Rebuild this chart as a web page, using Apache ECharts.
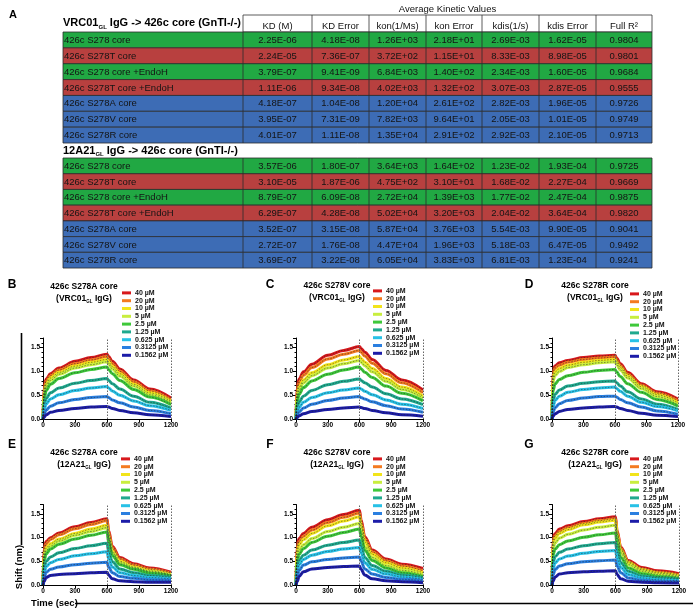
<!DOCTYPE html>
<html><head><meta charset="utf-8">
<script src="https://cdn.jsdelivr.net/npm/echarts@6/dist/echarts.min.js"></script>
<style>html,body{margin:0;padding:0;background:#fff}#c{width:693px;height:611px}</style>
</head><body><div id="c"></div>
<script>
// ---------------- DATA ----------------
const columns = ['KD (M)','KD Error','kon(1/Ms)','kon Error','kdis(1/s)','kdis Error','Full R²'];
const rowLabels = ['426c S278 core','426c S278T core','426c S278 core +EndoH','426c S278T core +EndoH','426c S278A core','426c S278V core','426c S278R core'];
const rowGroups = ['G','R','G','R','B','B','B'];
const vrcValues = [
 ['2.25E-06','4.18E-08','1.26E+03','2.18E+01','2.69E-03','1.62E-05','0.9804'],
 ['2.24E-05','7.36E-07','3.72E+02','1.15E+01','8.33E-03','8.98E-05','0.9801'],
 ['3.79E-07','9.41E-09','6.84E+03','1.40E+02','2.34E-03','1.60E-05','0.9684'],
 ['1.11E-06','9.34E-08','4.02E+03','1.32E+02','3.07E-03','2.87E-05','0.9555'],
 ['4.18E-07','1.04E-08','1.20E+04','2.61E+02','2.82E-03','1.96E-05','0.9726'],
 ['3.95E-07','7.31E-09','7.82E+03','9.64E+01','2.05E-03','1.01E-05','0.9749'],
 ['4.01E-07','1.11E-08','1.35E+04','2.91E+02','2.92E-03','2.10E-05','0.9713']];
const a12Values = [
 ['3.57E-06','1.80E-07','3.64E+03','1.64E+02','1.23E-02','1.93E-04','0.9725'],
 ['3.10E-05','1.87E-06','4.75E+02','3.10E+01','1.68E-02','2.27E-04','0.9669'],
 ['8.79E-07','6.09E-08','2.72E+04','1.39E+03','1.77E-02','2.47E-04','0.9875'],
 ['6.29E-07','4.28E-08','5.02E+04','3.20E+03','2.04E-02','3.64E-04','0.9820'],
 ['3.52E-07','3.15E-08','5.87E+04','3.76E+03','5.54E-03','9.90E-05','0.9041'],
 ['2.72E-07','1.76E-08','4.47E+04','1.96E+03','5.18E-03','6.47E-05','0.9492'],
 ['3.69E-07','3.22E-08','6.05E+04','3.83E+03','6.81E-03','1.23E-04','0.9241']];

const concentrations = ['40 µM','20 µM','10 µM','5 µM','2.5 µM','1.25 µM','0.625 µM','0.3125 µM','0.1562 µM'];
const timePoints = [0,10,30,70,150,300,450,600,615,650,720,850,1000,1200];
const xTicks = [0,300,600,900,1200];

const panelB = [
 [0,0.68,0.84,0.95,1.07,1.21,1.29,1.36,1.31,1.21,1.05,0.82,0.63,0.44],
 [0,0.62,0.79,0.91,1.03,1.16,1.24,1.31,1.26,1.16,1.00,0.78,0.59,0.40],
 [0,0.55,0.73,0.86,0.98,1.11,1.19,1.25,1.20,1.10,0.95,0.73,0.55,0.37],
 [0,0.48,0.68,0.81,0.94,1.07,1.14,1.20,1.15,1.05,0.90,0.69,0.51,0.34],
 [0,0.40,0.60,0.73,0.85,0.97,1.04,1.09,1.04,0.95,0.81,0.62,0.46,0.30],
 [0,0.27,0.43,0.55,0.65,0.75,0.81,0.85,0.81,0.74,0.63,0.48,0.35,0.23],
 [0,0.19,0.32,0.42,0.51,0.60,0.65,0.68,0.65,0.59,0.50,0.38,0.28,0.18],
 [0,0.10,0.19,0.27,0.34,0.41,0.45,0.47,0.45,0.40,0.34,0.25,0.18,0.11],
 [0,0.04,0.09,0.14,0.18,0.22,0.25,0.26,0.25,0.22,0.18,0.13,0.09,0.05]];
const panelC = [
 [0,0.68,0.84,0.99,1.15,1.34,1.44,1.52,1.48,1.40,1.25,1.02,0.82,0.61],
 [0,0.60,0.77,0.92,1.08,1.26,1.36,1.44,1.40,1.32,1.17,0.95,0.76,0.55],
 [0,0.50,0.67,0.82,0.97,1.14,1.24,1.31,1.27,1.19,1.06,0.85,0.67,0.48],
 [0,0.44,0.61,0.76,0.91,1.07,1.16,1.23,1.19,1.12,0.99,0.79,0.62,0.44],
 [0,0.35,0.52,0.66,0.80,0.94,1.03,1.09,1.05,0.98,0.87,0.69,0.54,0.38],
 [0,0.22,0.36,0.48,0.60,0.72,0.79,0.84,0.81,0.76,0.67,0.53,0.42,0.30],
 [0,0.14,0.25,0.35,0.45,0.55,0.61,0.65,0.63,0.58,0.51,0.40,0.31,0.22],
 [0,0.07,0.15,0.23,0.31,0.39,0.44,0.47,0.45,0.42,0.36,0.28,0.21,0.14],
 [0,0.03,0.07,0.11,0.16,0.20,0.23,0.25,0.24,0.22,0.18,0.13,0.09,0.06]];
const panelD = [
 [0,1.04,1.12,1.18,1.23,1.29,1.32,1.34,1.28,1.16,0.98,0.74,0.57,0.42],
 [0,0.98,1.07,1.13,1.19,1.25,1.28,1.30,1.24,1.12,0.94,0.71,0.54,0.38],
 [0,0.88,0.99,1.06,1.13,1.19,1.23,1.25,1.19,1.08,0.90,0.68,0.51,0.34],
 [0,0.80,0.92,1.00,1.08,1.14,1.18,1.20,1.14,1.03,0.86,0.64,0.47,0.30],
 [0,0.60,0.74,0.83,0.91,0.98,1.02,1.04,0.99,0.89,0.74,0.56,0.41,0.27],
 [0,0.38,0.52,0.61,0.69,0.75,0.78,0.80,0.76,0.69,0.57,0.42,0.31,0.20],
 [0,0.26,0.39,0.48,0.56,0.62,0.65,0.67,0.64,0.58,0.48,0.35,0.26,0.17],
 [0,0.14,0.24,0.32,0.39,0.44,0.47,0.48,0.46,0.41,0.34,0.25,0.17,0.10],
 [0,0.06,0.11,0.16,0.20,0.23,0.25,0.26,0.25,0.22,0.18,0.12,0.08,0.05]];
const panelE = [
 [0,0.80,0.92,1.00,1.10,1.23,1.32,1.40,1.15,0.82,0.58,0.45,0.36,0.27],
 [0,0.74,0.87,0.96,1.06,1.19,1.28,1.36,1.11,0.78,0.55,0.42,0.33,0.25],
 [0,0.64,0.78,0.87,0.97,1.09,1.18,1.26,1.02,0.71,0.50,0.38,0.30,0.22],
 [0,0.58,0.73,0.82,0.93,1.05,1.13,1.21,0.98,0.68,0.47,0.36,0.28,0.21],
 [0,0.50,0.66,0.76,0.86,0.97,1.05,1.12,0.90,0.62,0.43,0.33,0.25,0.19],
 [0,0.35,0.50,0.59,0.68,0.77,0.83,0.88,0.71,0.49,0.34,0.26,0.20,0.16],
 [0,0.25,0.39,0.47,0.54,0.62,0.66,0.70,0.56,0.38,0.26,0.20,0.16,0.13],
 [0,0.14,0.27,0.33,0.38,0.43,0.46,0.48,0.38,0.26,0.18,0.14,0.11,0.10],
 [0,0.07,0.16,0.20,0.22,0.24,0.26,0.27,0.21,0.13,0.09,0.07,0.06,0.06]];
const panelF = [
 [0,0.85,0.98,1.09,1.22,1.38,1.49,1.58,1.38,1.02,0.74,0.55,0.44,0.35],
 [0,0.78,0.92,1.03,1.16,1.32,1.43,1.52,1.32,0.97,0.70,0.51,0.40,0.30],
 [0,0.70,0.85,0.96,1.09,1.25,1.35,1.44,1.25,0.91,0.65,0.47,0.36,0.26],
 [0,0.58,0.74,0.85,0.98,1.13,1.22,1.30,1.12,0.81,0.58,0.41,0.31,0.22],
 [0,0.48,0.65,0.77,0.90,1.03,1.11,1.18,1.02,0.73,0.52,0.36,0.26,0.18],
 [0,0.34,0.52,0.63,0.74,0.84,0.90,0.95,0.82,0.58,0.41,0.29,0.21,0.15],
 [0,0.25,0.43,0.54,0.63,0.71,0.76,0.79,0.68,0.47,0.33,0.23,0.17,0.12],
 [0,0.15,0.31,0.42,0.49,0.54,0.57,0.59,0.50,0.34,0.23,0.16,0.12,0.09],
 [0,0.07,0.18,0.28,0.34,0.37,0.39,0.40,0.33,0.21,0.13,0.09,0.07,0.05]];
const panelG = [
 [0,1.01,1.09,1.18,1.25,1.34,1.40,1.44,1.15,0.80,0.52,0.37,0.30,0.24],
 [0,0.95,1.04,1.13,1.21,1.30,1.36,1.40,1.11,0.77,0.49,0.34,0.27,0.21],
 [0,0.88,0.99,1.09,1.17,1.27,1.33,1.37,1.08,0.74,0.47,0.32,0.25,0.19],
 [0,0.78,0.89,0.99,1.07,1.16,1.22,1.26,0.99,0.68,0.43,0.29,0.22,0.17],
 [0,0.64,0.76,0.85,0.93,1.01,1.06,1.10,0.86,0.58,0.36,0.24,0.18,0.14],
 [0,0.48,0.60,0.69,0.76,0.83,0.87,0.90,0.70,0.47,0.29,0.19,0.15,0.12],
 [0,0.35,0.47,0.55,0.61,0.67,0.71,0.73,0.56,0.37,0.22,0.15,0.11,0.09],
 [0,0.21,0.33,0.40,0.45,0.49,0.51,0.53,0.40,0.26,0.15,0.10,0.08,0.07],
 [0,0.08,0.17,0.23,0.26,0.28,0.29,0.30,0.22,0.13,0.08,0.06,0.05,0.04]];

// ---------------- STYLE / LAYOUT ----------------
const FONT = '"Liberation Sans", Arial, sans-serif';
const lineColors = ['#d8181c','#f47a20','#f2e41a','#c8ee3e','#3ec83a','#1fa98e','#27c1e6','#2a7fe0','#1c1ca8'];
const groupFill = {G:'#21a843', R:'#b8403f', B:'#3d6cb5'};
const colX = [243,312,369,426,482,539,596,652];
const tableLeft = 63;

const panels = [
 {letter:'B', name:'426c S278A core', ab:'VRC01', data:panelB, grid:[43,338,128,81], leg:[122,289], tx:84, ty:287, lx:12, ly:285},
 {letter:'C', name:'426c S278V core', ab:'VRC01', data:panelC, grid:[296,338,127,81], leg:[373,287], tx:337, ty:286, lx:270, ly:285},
 {letter:'D', name:'426c S278R core', ab:'VRC01', data:panelD, grid:[552,338,126,81], leg:[630,290], tx:595, ty:286, lx:529, ly:285},
 {letter:'E', name:'426c S278A core', ab:'12A21', data:panelE, grid:[43,504.5,128,80.5], leg:[121,455], tx:84, ty:453, lx:12, ly:445},
 {letter:'F', name:'426c S278V core', ab:'12A21', data:panelF, grid:[296,504.5,127,80.5], leg:[373,455], tx:337, ty:453, lx:270, ly:445},
 {letter:'G', name:'426c S278R core', ab:'12A21', data:panelG, grid:[552,504.5,127,80.5], leg:[630,455], tx:595, ty:453, lx:529, ly:445}
];

const g = [];
function rect(x,y,w,h,fill,stroke,lw){ g.push({type:'rect', shape:{x:x,y:y,width:w,height:h}, style:{fill:fill, stroke:stroke||null, lineWidth:lw||0}, silent:true}); }
function line(x1,y1,x2,y2,stroke,lw){ g.push({type:'line', shape:{x1:x1,y1:y1,x2:x2,y2:y2}, style:{stroke:stroke, lineWidth:lw}, silent:true}); }
function text(x,y,str,opts){ g.push({type:'text', x:x, y:y, z:10, style:Object.assign({text:str, fill:'#111', fontFamily:FONT, fontSize:9.5, align:'left', verticalAlign:'middle'}, opts||{}), silent:true}); }
function richHeader(x,y,ab,size,sub,align,rest){
  g.push({type:'text', x:x, y:y, z:10, silent:true, style:{
    text:'{a|'+ab+'}{s|GL}{a|'+rest+'}', align:align, verticalAlign:'middle',
    rich:{a:{fontSize:size, fontWeight:'bold', fontFamily:FONT, fill:'#000', color:'#000', lineHeight:size+3, verticalAlign:'middle'},
          s:{fontSize:sub, fontWeight:'bold', fontFamily:FONT, fill:'#000', color:'#000', lineHeight:sub, verticalAlign:'bottom'}}}});
}

// ---- table ----
text(tableLeft-54, 15, 'A', {fontSize:11, fontWeight:'bold', fill:'#000'});
text((colX[0]+colX[7])/2, 9, 'Average Kinetic Values', {align:'center', fontSize:9.5});
rect(colX[0], 15, colX[7]-colX[0], 17, '#fff', '#333', 0.8);
columns.forEach((c,i)=>{
  if(i>0) line(colX[i],15,colX[i],32,'#333',0.8);
  text((colX[i]+colX[i+1])/2, 26, c, {align:'center', fontSize:9.5});
});
richHeader(tableLeft, 23, 'VRC01', 11, 6, 'left', ' IgG -> 426c core (GnTI-/-)');
function block(y0, rh, vals){
  rowLabels.forEach((lab,i)=>{
    const y = y0 + i*rh;
    rect(tableLeft, y, colX[7]-tableLeft, rh, groupFill[rowGroups[i]], '#2b2b2b', 0.8);
    for(let k=0;k<7;k++) line(colX[k], y, colX[k], y+rh, '#2b2b2b', 0.8);
    text(tableLeft+1, y+rh/2+0.5, lab, {fill:'#141414'});
    vals[i].forEach((v,k)=> text((colX[k]+colX[k+1])/2, y+rh/2+0.5, v, {align:'center', fill:'#141414'}));
  });
}
block(32, 15.86, vrcValues);
richHeader(tableLeft, 150.5, '12A21', 11, 6, 'left', ' IgG -> 426c core (GnTI-/-)');
block(158, 15.72, a12Values);

// ---- big axis titles ----
line(21.5, 333, 21.5, 545, '#000', 1.6);
g.push({type:'text', x:19, y:567, rotation:Math.PI/2, z:10, silent:true, style:{text:'Shift (nm)', fontFamily:FONT, fontSize:9.5, fontWeight:'bold', fill:'#000', align:'center', verticalAlign:'middle'}});
line(75, 603.5, 693, 603.5, '#000', 1.6);
text(31, 603, 'Time (sec)', {fontSize:9.5, fontWeight:'bold', fill:'#000'});

// ---- panels ----
const grids=[], xAxes=[], yAxes=[], series=[], legends=[];
panels.forEach((p,pi)=>{
  text(p.lx, p.ly, p.letter, {fontSize:12, fontWeight:'bold', fill:'#000', align:'center'});
  text(p.tx, p.ty, p.name, {fontSize:8.5, fontWeight:'bold', fill:'#000', align:'center'});
  richHeader(p.tx, p.ty+11.5, '('+p.ab, 8.5, 4.5, 'center', ' IgG)');
  grids.push({left:p.grid[0], top:p.grid[1], width:p.grid[2], height:p.grid[3]});
  xAxes.push({gridIndex:pi, type:'value', min:xTicks[0], max:xTicks[xTicks.length-1], interval:xTicks[1]-xTicks[0],
    axisLine:{onZero:false, lineStyle:{color:'#000', width:1}}, axisTick:{length:3, lineStyle:{color:'#000'}},
    axisLabel:{fontSize:6.5, fontWeight:'bold', color:'#000', margin:3, fontFamily:FONT, formatter:v=>String(v)}, splitLine:{show:false}});
  yAxes.push({gridIndex:pi, type:'value', min:0, max:1.7, interval:0.5,
    axisLine:{show:true, onZero:false, lineStyle:{color:'#000', width:1}}, axisTick:{show:true, length:3, lineStyle:{color:'#000'}},
    minorTick:{show:true, splitNumber:5, length:1.5, lineStyle:{color:'#000'}},
    axisLabel:{fontSize:6.5, fontWeight:'bold', color:'#000', margin:3, fontFamily:FONT, formatter:v=> v>1.6?'':v.toFixed(1)},
    splitLine:{show:false}});
  p.data.forEach((vals,ci)=>{
    const s = {type:'line', name:concentrations[ci], xAxisIndex:pi, yAxisIndex:pi,
      data:timePoints.map((t,k)=>[t, vals[k]]), smooth:0.35, smoothMonotone:'x', showSymbol:false, symbol:'none',
      lineStyle:{width:3, color:lineColors[ci]}, itemStyle:{color:lineColors[ci]}, z:2, silent:true};
    if(ci===0){
      s.markLine = {silent:true, symbol:'none', label:{show:false}, lineStyle:{color:'#666', type:[1.5,1.5], width:1},
        data:[{xAxis:600},{xAxis:1200}]};
    }
    series.push(s);
  });
  p.data.forEach((vals,ci)=>{
    series.push({type:'line', name:'fit '+concentrations[ci], xAxisIndex:pi, yAxisIndex:pi,
      data:timePoints.map((t,k)=>[t, vals[k]]), smooth:0.35, smoothMonotone:'x', showSymbol:false, symbol:'none',
      lineStyle:{width:0.5, color:'#222', type:[1.5,1.5]}, z:3, silent:true});
  });
  legends.push({left:p.leg[0], top:p.leg[1], orient:'vertical', itemGap:0, itemWidth:9, itemHeight:3, icon:'rect',
    padding:0, selectedMode:false, data:concentrations,
    textStyle:{fontSize:7, fontWeight:'bold', lineHeight:7.8, color:'#111', fontFamily:FONT, padding:[0,0,0,-1]}});
});

const chart = echarts.init(document.getElementById('c'), null, {renderer:'canvas'});
chart.setOption({animation:false, backgroundColor:'#fff', grid:grids, xAxis:xAxes, yAxis:yAxes, legend:legends, series:series, graphic:g});
</script></body></html>
